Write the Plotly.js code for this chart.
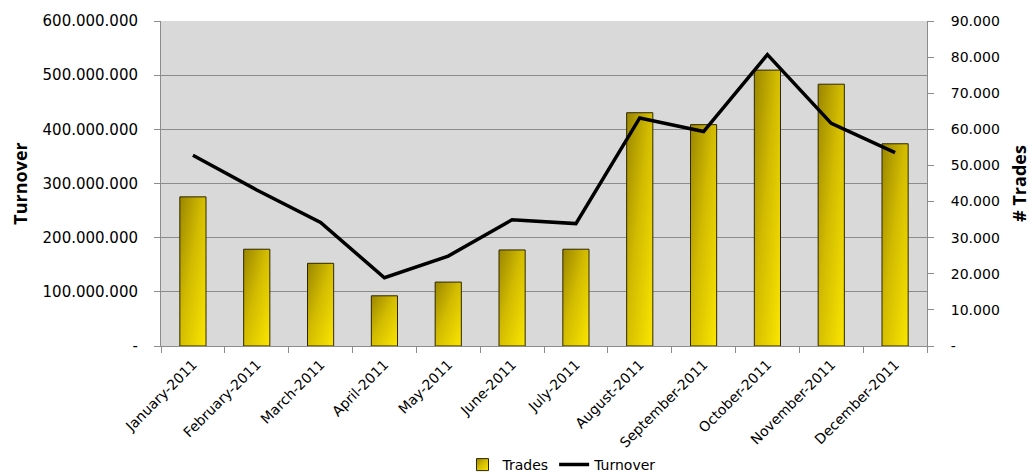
<!DOCTYPE html>
<html>
<head>
<meta charset="utf-8">
<script src="https://cdn.plot.ly/plotly-3.0.1.min.js"></script>
<style>
  html, body { margin: 0; padding: 0; background: #fff; }
  #chart { width: 1035px; height: 474px; }
</style>
</head>
<body>
<div id="chart"></div>
<script>
const months = ["January-2011", "February-2011", "March-2011", "April-2011", "May-2011", "June-2011",
                "July-2011", "August-2011", "September-2011", "October-2011", "November-2011", "December-2011"];
const trades = [41300, 26800, 22900, 13900, 17700, 26600, 26800, 64600, 61300, 76400, 72500, 56000];
const turnover = [352000000, 288000000, 228000000, 126000000, 166000000, 233000000,
                  226000000, 421000000, 396000000, 538000000, 411000000, 357000000];

const leftTickVals = [0, 100000000, 200000000, 300000000, 400000000, 500000000, 600000000];
const leftTickText = ["-", "100.000.000", "200.000.000", "300.000.000", "400.000.000", "500.000.000", "600.000.000"];
const rightTickVals = [0, 10000, 20000, 30000, 40000, 50000, 60000, 70000, 80000, 90000];
const rightTickText = ["-", "10.000", "20.000", "30.000", "40.000", "50.000", "60.000", "70.000", "80.000", "90.000"];

const FONT = "DejaVu Sans, sans-serif";
const TFONT = "Open Sans, DejaVu Sans, sans-serif";

const data = [
  {
    type: "bar",
    name: "Trades",
    x: months,
    y: trades,
    yaxis: "y",
    width: 0.41,
    marker: { color: "#d8c200", line: { color: "#2e2600", width: 1 } },
    hoverinfo: "skip"
  },
  {
    type: "scatter",
    mode: "lines",
    name: "Turnover",
    x: months,
    y: turnover,
    yaxis: "y2",
    line: { color: "#000000", width: 3.5 },
    hoverinfo: "skip"
  }
];

const layout = {
  width: 1035,
  height: 474,
  margin: { l: 161, r: 108, t: 21, b: 128 },
  paper_bgcolor: "#ffffff",
  plot_bgcolor: "#d9d9d9",
  font: { family: FONT, size: 14, color: "#000" },
  showlegend: true,
  legend: {
    orientation: "h",
    xref: "container", yref: "container",
    x: 0.543, xanchor: "center",
    y: 0.019, yanchor: "middle",
    font: { family: FONT, size: 14, color: "#000" },
    traceorder: "normal",
    itemwidth: 30,
    bgcolor: "rgba(0,0,0,0)"
  },
  xaxis: {
    type: "category",
    automargin: false,
    tickangle: -45,
    tickson: "boundaries",
    ticks: "outside",
    ticklen: 6,
    tickcolor: "#8c8c8c",
    showline: true,
    linecolor: "#8c8c8c",
    linewidth: 1,
    showgrid: false,
    ticklabelstandoff: 4,
    tickfont: { family: FONT, size: 14, color: "#000" },
    range: [-0.5, 11.5]
  },
  yaxis: {
    side: "right",
    automargin: false,
    range: [0, 90000],
    tickvals: rightTickVals,
    ticktext: rightTickText,
    ticks: "outside",
    ticklen: 6,
    tickcolor: "#8c8c8c",
    showline: true,
    linecolor: "#8c8c8c",
    linewidth: 1,
    showgrid: false,
    zeroline: false,
    ticklabelstandoff: 14,
    tickfont: { family: FONT, size: 14, color: "#000" },
    title: { text: "<b># Trades</b>", font: { family: TFONT, size: 18, color: "#000" }, standoff: 14 }
  },
  yaxis2: {
    overlaying: "y",
    side: "left",
    automargin: false,
    range: [0, 600000000],
    tickvals: leftTickVals,
    ticktext: leftTickText,
    ticks: "outside",
    ticklen: 6,
    tickcolor: "#8c8c8c",
    showline: true,
    linecolor: "#8c8c8c",
    linewidth: 1,
    showgrid: true,
    gridcolor: "#8c8c8c",
    gridwidth: 1,
    zeroline: false,
    ticklabelstandoff: 13,
    tickfont: { family: FONT, size: 15, color: "#000" },
    title: { text: "<b>Turnover</b>", font: { family: TFONT, size: 18, color: "#000" }, standoff: 10 }
  },
  bargap: 0.59
};

Plotly.newPlot("chart", data, layout, { displayModeBar: false, staticPlot: true }).then(function (gd) {
  const ns = "http://www.w3.org/2000/svg";
  const svg = gd.querySelector(".main-svg");
  let defs = svg.querySelector("defs");
  if (!defs) { defs = document.createElementNS(ns, "defs"); svg.insertBefore(defs, svg.firstChild); }
  const grad = document.createElementNS(ns, "linearGradient");
  grad.setAttribute("id", "barGrad");
  grad.setAttribute("x1", "0"); grad.setAttribute("y1", "0");
  grad.setAttribute("x2", "1"); grad.setAttribute("y2", "1");
  [["0%", "#9a8600"], ["45%", "#d2bb00"], ["100%", "#fbe600"]].forEach(function (s) {
    const st = document.createElementNS(ns, "stop");
    st.setAttribute("offset", s[0]);
    st.setAttribute("stop-color", s[1]);
    grad.appendChild(st);
  });
  defs.appendChild(grad);
  gd.querySelectorAll(".barlayer .point path").forEach(function (p) { p.style.fill = "url(#barGrad)"; });
  gd.querySelectorAll(".legend .legendpoints path.legendundefined").forEach(function (p) { p.style.fill = "url(#barGrad)"; });
});
</script>
</body>
</html>
